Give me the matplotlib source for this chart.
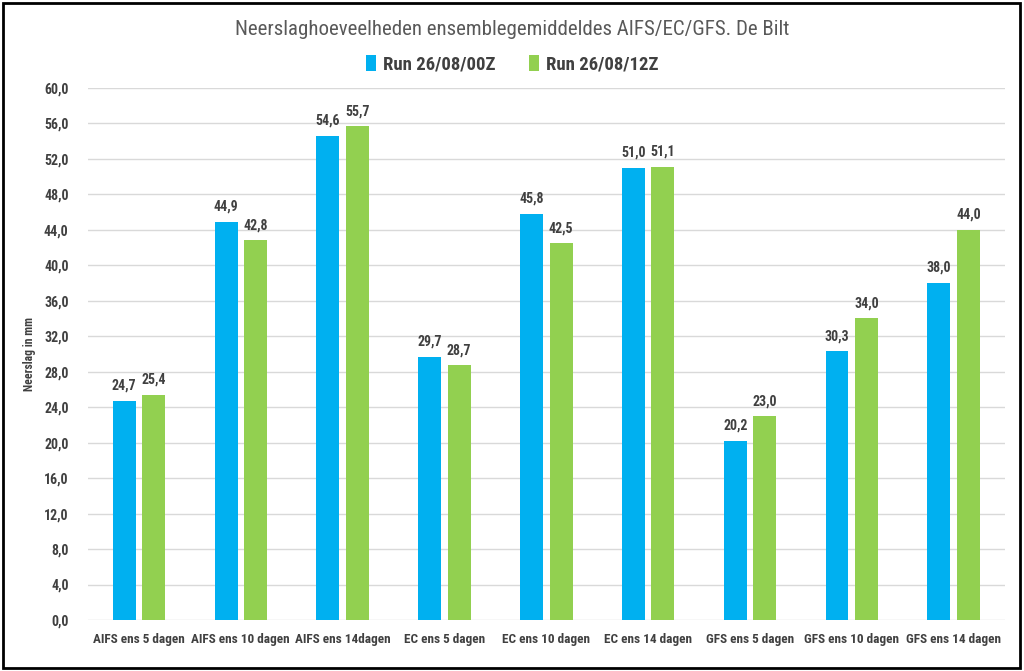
import numpy as np
import matplotlib
matplotlib.use('Agg')
from matplotlib import pyplot as plt
from matplotlib.patches import Rectangle

# data
cats = ['AIFS ens 5 dagen', 'AIFS ens 10 dagen', 'AIFS ens 14dagen',
        'EC ens 5 dagen', 'EC ens 10 dagen', 'EC ens 14 dagen',
        'GFS ens 5 dagen', 'GFS ens 10 dagen', 'GFS ens 14 dagen']
run00 = [24.7, 44.9, 54.6, 29.7, 45.8, 51.0, 20.2, 30.3, 38.0]
run12 = [25.4, 42.8, 55.7, 28.7, 42.5, 51.1, 23.0, 34.0, 44.0]
yticks = np.arange(0, 61, 4)

plt.rcParams['font.family'] = ['Roboto Condensed', 'DejaVu Sans']
txtc = '#404040'

fig = plt.figure(figsize=(10.24, 6.71), dpi=100)
ax = fig.add_axes([0.086, 0.076, 0.895, 0.793])

x = np.arange(len(cats))
w = 0.225
off = 0.145
b1 = ax.bar(x - off, run00, w, color='#00B0F0', label='Run 26/08/00Z', zorder=3)
b2 = ax.bar(x + off, run12, w, color='#92D050', label='Run 26/08/12Z', zorder=3)

# value labels above bars
for bars, vals in ((b1, run00), (b2, run12)):
    for r, v in zip(bars, vals):
        ax.text(r.get_x() + r.get_width()/2, v + 0.9, ('%.1f' % v).replace('.', ','),
                ha='center', va='bottom', fontsize=10, fontweight='bold', color=txtc)

ax.set_xlim(-0.5, len(cats) - 0.5)
ax.set_ylim(0, 60)
ax.set_yticks(yticks)
ax.set_yticklabels([('%.1f' % t).replace('.', ',') for t in yticks], fontsize=10,
                   fontweight='bold', color=txtc)
ax.set_xticks(x)
ax.set_xticklabels(cats, fontsize=9.5, fontweight='bold', color=txtc)
ax.tick_params(length=0, pad=9)
ax.tick_params(axis='y', pad=14)
ax.grid(axis='y', color='#D9D9D9', linewidth=1, zorder=0)
for s in ax.spines.values():
    s.set_visible(False)

ax.set_ylabel('Neerslag in mm', fontsize=8.5, fontweight='bold', color=txtc)
ax.yaxis.set_label_coords(-0.057, 0.5)

fig.text(0.5, 0.956, 'Neerslaghoeveelheden ensemblegemiddeldes AIFS/EC/GFS. De Bilt',
         ha='center', va='center', fontsize=15, color='#595959')
fig.legend(handles=[b1, b2], loc='center', bbox_to_anchor=(0.5, 0.904), ncol=2,
           frameon=False, prop={'size': 13.5, 'weight': 'bold'}, handlelength=0.55,
           handleheight=0.9, handletextpad=0.35, columnspacing=1.8, labelcolor=txtc)

# outer frame
fig.patches.append(Rectangle((0.003, 0.005), 0.993, 0.99, transform=fig.transFigure,
                             fill=False, edgecolor='black', linewidth=2))

fig.savefig('out.png', dpi=100)
